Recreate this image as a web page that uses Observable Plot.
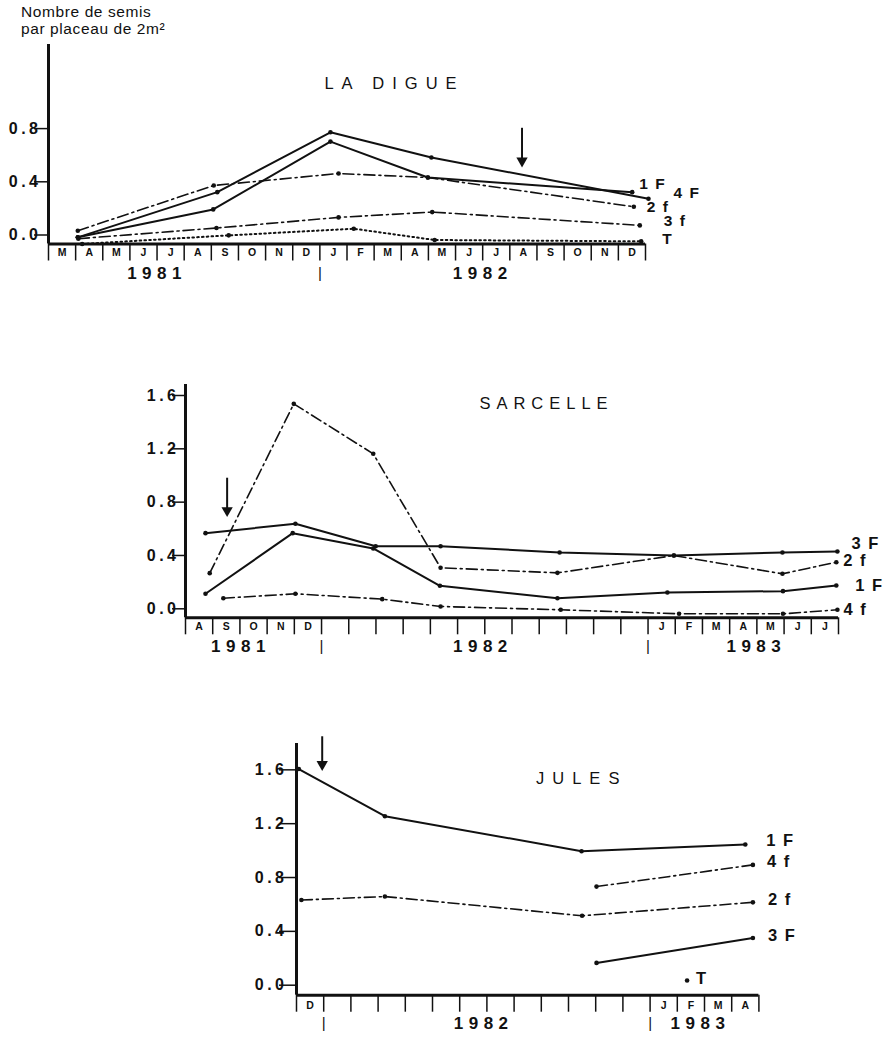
<!DOCTYPE html>
<html>
<head>
<meta charset="utf-8">
<script src="https://cdn.jsdelivr.net/npm/d3@7"></script>
<script src="https://cdn.jsdelivr.net/npm/@observablehq/plot@0.6"></script>
<style>
  body { margin: 0; background: #fff; }
  #wrap { position: relative; width: 886px; height: 1039px; overflow: hidden; background: #fff;
          font-family: "Liberation Sans", Arial, sans-serif; color: #111; }
  #wrap svg { position: absolute; left: 0; overflow: visible; }
  .hdr { position: absolute; left: 21px; top: 3px; font-size: 15.5px; line-height: 17px; letter-spacing: 0.6px; }
</style>
</head>
<body>
<div id="wrap">
  <div class="hdr">Nombre de semis<br>par placeau de 2m²</div>
</div>
<script>
// ---------------- DATA ----------------
// x = months elapsed since the first month cell of each panel, y = seedlings per 2 m² plot

// LA DIGUE (cells: March 1981 – December 1982)
const digueMonths = ["M","A","M","J","J","A","S","O","N","D","J","F","M","A","M","J","J","A","S","O","N","D"];
const digueYearPos = [4, 16];
const digueYearLabels = ["1981", "1982"];
const digueYearBreaks = [10];
const digueTicks = [0, 0.4, 0.8];
const digue1F = [[1.08, 0.05], [6.07, 0.26], [10.39, 0.77], [13.98, 0.50], [21.51, 0.39]];
const digue4F = [[1.08, 0.05], [6.22, 0.39], [10.39, 0.84], [14.11, 0.65], [22.11, 0.34]];
const digue2f = [[1.08, 0.10], [6.09, 0.44], [10.69, 0.53], [13.98, 0.50], [21.57, 0.28]];
const digue3f = [[1.10, 0.04], [6.19, 0.12], [10.69, 0.20], [14.14, 0.24], [21.79, 0.14]];
const digueT  = [[1.24, 0.00], [6.64, 0.065], [11.25, 0.115], [14.23, 0.03], [21.84, 0.02]];
const digueArrow = {m: 17.45, from: 0.87, to: 0.61};

// SARCELLE (cells: August 1981 – July 1983)
const sarcMonths = ["A","S","O","N","D","","","","","","","","","","","","","J","F","M","A","M","J","J"];
const sarcYearPos = [2.04, 10.93, 20.98];
const sarcYearLabels = ["1981", "1982", "1983"];
const sarcYearBreaks = [5, 17];
const sarcTicks = [0, 0.4, 0.8, 1.2, 1.6];
const sarc3F = [[0.735, 0.635], [4.04, 0.705], [6.99, 0.537], [9.375, 0.537], [13.75, 0.49], [17.95, 0.467], [21.94, 0.49], [23.96, 0.497]];
const sarc2f = [[0.89, 0.335], [3.98, 1.605], [6.90, 1.23], [9.375, 0.375], [13.67, 0.337], [17.95, 0.467], [21.94, 0.33], [23.92, 0.417]];
const sarc1F = [[0.735, 0.18], [3.94, 0.635], [6.90, 0.52], [9.35, 0.24], [13.67, 0.147], [17.71, 0.19], [21.96, 0.20], [23.92, 0.242]];
const sarc4f = [[1.39, 0.147], [4.04, 0.18], [7.23, 0.14], [9.375, 0.085], [13.79, 0.06], [18.14, 0.03], [21.96, 0.03], [23.96, 0.06]];
const sarcArrow = {m: 1.53, from: 1.047, to: 0.79};

// JULES (cells: December 1981 – April 1983)
const julesMonths = ["D","","","","","","","","","","","","","J","F","M","A"];
const julesYearPos = [6.88, 14.85];
const julesYearLabels = ["1982", "1983"];
const julesYearBreaks = [1, 13];
const julesTicks = [0, 0.4, 0.8, 1.2, 1.6];
const jules1F = [[0.085, 1.68], [3.25, 1.33], [10.48, 1.07], [16.50, 1.12]];
const jules4f = [[11.03, 0.807], [16.78, 0.968]];
const jules2f = [[0.18, 0.707], [3.25, 0.733], [10.50, 0.59], [16.78, 0.69]];
const jules3F = [[11.03, 0.24], [16.78, 0.425]];
const julesT  = [[14.36, 0.109]];
const julesArrow = {m: 0.945, from: 1.92, to: 1.70};

// ---------------- LAYOUT / STYLE ----------------
const W = 886;
const FONT = "Liberation Sans, Arial, sans-serif";

function panel(cfg) {
  const rows = cfg.series.flatMap(s => s.points.map(([m, v]) => ({series: s.name, m, v})));
  const kind = n => n === "T" ? "dotted" : /F$/.test(n) ? "solid" : "dashdot";
  const n = cfg.months.length;
  const cells = cfg.months.map((t, i) => ({c: i + 0.5, t}));
  const years = cfg.yearPos.map((p, i) => ({p, t: cfg.yearLabels[i]}));
  const b = cfg.box;
  const marks = [
    Plot.line(rows.filter(d => kind(d.series) === "solid"), {x: "m", y: "v", z: "series", stroke: "#111", strokeWidth: 2}),
    Plot.line(rows.filter(d => kind(d.series) === "dashdot"), {x: "m", y: "v", z: "series", stroke: "#111", strokeWidth: 1.6, strokeDasharray: "11,4,2,4"}),
    Plot.line(rows.filter(d => kind(d.series) === "dotted"), {x: "m", y: "v", z: "series", stroke: "#111", strokeWidth: 2, strokeDasharray: "1.6,3.2"}),
    Plot.dot(rows, {x: "m", y: "v", r: 2.3, fill: "#111"}),
    Plot.ruleX([0], {stroke: "#111", strokeWidth: 3}),
    Plot.ruleY([0], {stroke: "#111", strokeWidth: 3}),
    Plot.axisY(cfg.ticks, {tickSize: cfg.yTickSize, tickPadding: cfg.yTickPad, dy: cfg.yLabDy,
      tickFormat: d3.format(".1f"), fontSize: 16, fontWeight: "bold", strokeWidth: 1.5, label: null}),
    Plot.axisX(d3.range(n + 1), {tickSize: 17, tickFormat: () => "", strokeWidth: 1.5, label: null}),
    Plot.text(cells, {x: "c", text: "t", frameAnchor: "bottom", dy: cfg.monthDy, fontSize: 10.5, fontWeight: "bold", fill: "#111"}),
    Plot.text(years, {x: "p", text: "t", frameAnchor: "bottom", dy: cfg.yearDy, fontSize: 17, fontWeight: "bold", fill: "#111"}),
    Plot.text(cfg.breaks, {x: d => d, text: () => "|", frameAnchor: "bottom", dy: cfg.yearDy - 1, fontSize: 15, fill: "#111"}),
    Plot.ruleX([cfg.arrow], {x: "m", y1: "from", y2: "to", stroke: "#111", strokeWidth: 2}),
    Plot.dot([cfg.arrow], {x: "m", y: "to", symbol: "triangle", rotate: 180, r: 4.2, fill: "#111", dy: -2}),
    Plot.text([cfg.title], {text: d => d, frameAnchor: "top", dx: cfg.titleDx, dy: cfg.titleDy, fontSize: 16.5, fill: "#111"}),
  ];
  for (const s of cfg.series) {
    const last = s.points[s.points.length - 1];
    const [dx, dy] = cfg.labelOffsets[s.name];
    marks.push(Plot.text([{m: last[0], v: last[1]}], {x: "m", y: "v", text: () => s.name, dx, dy,
      textAnchor: "start", fontSize: cfg.labelSize, fontWeight: "bold", fill: "#111"}));
  }
  const svg = Plot.plot({
    width: W, height: cfg.height,
    marginLeft: b.left, marginRight: W - b.right,
    marginTop: b.top - cfg.svgTop, marginBottom: cfg.svgTop + cfg.height - b.bottom,
    x: {domain: [0, n], label: null},
    y: {domain: [0, cfg.yMax], label: null},
    style: {fontFamily: FONT, background: "transparent", overflow: "visible", color: "#111"},
    marks
  });
  svg.style.top = cfg.svgTop + "px";
  // letter spacing of the printed lettering (by text content)
  const names = new Set(cfg.series.map(s => s.name));
  d3.select(svg).selectAll("text").each(function() {
    const t = this.textContent;
    if (/^\d\.\d$/.test(t)) this.style.letterSpacing = "3.5px";
    else if (/^\d{4}$/.test(t)) this.style.letterSpacing = "5.5px";
    else if (t === cfg.title) this.style.letterSpacing = cfg.titleSpacing;
    else if (names.has(t)) this.style.letterSpacing = "1.5px";
  });
  return svg;
}

const wrap = document.getElementById("wrap");

wrap.appendChild(panel({
  months: digueMonths, yearPos: digueYearPos, yearLabels: digueYearLabels, breaks: digueYearBreaks,
  ticks: digueTicks, yMax: 1.5, arrow: digueArrow, title: "LA DIGUE", titleSpacing: "8px",
  series: [
    {name: "1 F", points: digue1F}, {name: "4 F", points: digue4F},
    {name: "2 f", points: digue2f}, {name: "3 f", points: digue3f}, {name: "T", points: digueT}
  ],
  labelSize: 15.5,
  labelOffsets: {"1 F": [7, -8], "4 F": [25, -6], "2 f": [13, 0], "3 f": [24, -4], "T": [21, -2]},
  svgTop: 0, height: 300, box: {left: 48, right: 645, top: 44, bottom: 243.5},
  yTickSize: 14, yTickPad: -7, yLabDy: -9, monthDy: 11.5, yearDy: 34.5,
  titleDx: 47.5, titleDy: 33
}));

wrap.appendChild(panel({
  months: sarcMonths, yearPos: sarcYearPos, yearLabels: sarcYearLabels, breaks: sarcYearBreaks,
  ticks: sarcTicks, yMax: 1.75, arrow: sarcArrow, title: "SARCELLE", titleSpacing: "6px",
  series: [
    {name: "3 F", points: sarc3F}, {name: "2 f", points: sarc2f},
    {name: "1 F", points: sarc1F}, {name: "4 f", points: sarc4f}
  ],
  labelSize: 16.5,
  labelOffsets: {"3 F": [14, -8], "2 f": [7, -1], "1 F": [19, 0], "4 f": [6, 0]},
  svgTop: 370, height: 300, box: {left: 185, right: 838, top: 384, bottom: 617.3},
  yTickSize: 13, yTickPad: -7, yLabDy: -9, monthDy: 12.5, yearDy: 34.4,
  titleDx: 34.5, titleDy: 13
}));

wrap.appendChild(panel({
  months: julesMonths, yearPos: julesYearPos, yearLabels: julesYearLabels, breaks: julesYearBreaks,
  ticks: julesTicks, yMax: 1.87, arrow: julesArrow, title: "JULES", titleSpacing: "8px",
  series: [
    {name: "1 F", points: jules1F}, {name: "4 f", points: jules4f},
    {name: "2 f", points: jules2f}, {name: "3 F", points: jules3F}, {name: "T", points: julesT}
  ],
  labelSize: 16.5,
  labelOffsets: {"1 F": [21, -4], "4 f": [14, -3], "2 f": [15, -3], "3 F": [15, -2], "T": [9, -2]},
  svgTop: 720, height: 319, box: {left: 296, right: 758.4, top: 743, bottom: 994.7},
  yTickSize: 17, yTickPad: -8, yLabDy: -10, monthDy: 13.5, yearDy: 33.3,
  titleDx: 54, titleDy: 29
}));
</script>
</body>
</html>
